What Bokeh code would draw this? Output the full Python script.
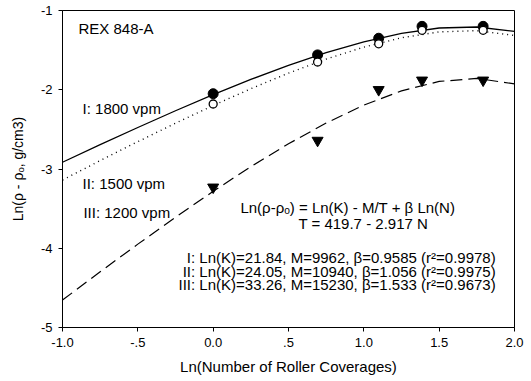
import numpy as np
from bokeh.plotting import figure
from bokeh.models import Label, FixedTicker, Range1d, CustomJSTickFormatter
from bokeh.embed import file_html
from bokeh.resources import INLINE

# ---- measured data ----
coverages = [1, 2, 3, 4, 6]
ln_cov = [float(v) for v in np.log(coverages)]
rho_I = [-2.05, -1.56, -1.35, -1.20, -1.20]     # 1800 vpm, filled circles
rho_II = [-2.18, -1.65, -1.42, -1.25, -1.25]    # 1500 vpm, open circles
rho_III = [-3.23, -2.64, -2.00, -1.88, -1.88]   # 1200 vpm, triangles

# fitted curves
curve_x = [-1.0, -0.75, -0.5, -0.25, 0.0, 0.25, 0.5, 0.75, 1.0, 1.25, 1.5, 1.75, 2.0]
curve_I = [-2.915, -2.693, -2.476, -2.265, -2.062, -1.870, -1.692, -1.532, -1.395, -1.288, -1.221, -1.208, -1.264]
curve_II = [-3.139, -2.894, -2.655, -2.422, -2.199, -1.987, -1.790, -1.613, -1.462, -1.344, -1.270, -1.254, -1.315]
curve_III = [-4.654, -4.297, -3.948, -3.609, -3.282, -2.971, -2.682, -2.420, -2.194, -2.014, -1.895, -1.857, -1.926]

x_ticks = [-1.0, -0.5, 0.0, 0.5, 1.0, 1.5, 2.0]
x_tick_labels = ["-1.0", "-.5", "0.0", ".5", "1.0", "1.5", "2.0"]
y_ticks = [-5, -4, -3, -2, -1]
y_tick_labels = ["-5", "-4", "-3", "-2", "-1"]

FONT = "Liberation Sans"

p = figure(width=531, height=381, output_backend="svg", toolbar_location=None,
           x_range=Range1d(-1.0, 2.0), y_range=Range1d(-5.0, -1.0),
           min_border_left=62, min_border_right=17, min_border_top=10, min_border_bottom=54)
p.background_fill_color = "white"
p.border_fill_color = "white"
p.outline_line_color = "black"
p.outline_line_width = 1
p.xgrid.grid_line_color = None
p.ygrid.grid_line_color = None

# curves
p.line(curve_x, curve_I, line_color="black", line_width=1.3)
p.line(curve_x, curve_II, line_color="black", line_width=1.4, line_dash="1 4")
p.line(curve_x, curve_III, line_color="black", line_width=1.2, line_dash="12 6")

# points
p.scatter(ln_cov, rho_I, marker="circle", size=10, fill_color="black", line_color="black")
p.scatter(ln_cov, rho_II, marker="circle", size=8, fill_color="white", line_color="black", line_width=1.3)
p.scatter(ln_cov, rho_III, marker="inverted_triangle", size=11, fill_color="black", line_color="black")

# axes
for ax in (p.xaxis[0], p.yaxis[0]):
    ax.axis_line_color = "black"
    ax.major_tick_line_color = "black"
    ax.major_tick_in = 0
    ax.major_tick_out = 4
    ax.minor_tick_line_color = None
    ax.major_label_text_font = FONT
    ax.major_label_text_font_size = "13px"
    ax.major_label_text_color = "black"
    ax.axis_label_text_font = FONT
    ax.axis_label_text_font_size = "15px"
    ax.axis_label_text_font_style = "normal"
    ax.axis_label_text_color = "black"
p.yaxis.axis_label_text_font_size = "14px"

fmt_code = """
const i = tick_vals.findIndex(t => Math.abs(t - tick) < 1e-9);
return i >= 0 ? tick_text[i] : '';
"""
p.xaxis.ticker = FixedTicker(ticks=x_ticks)
p.xaxis.formatter = CustomJSTickFormatter(args=dict(tick_vals=x_ticks, tick_text=x_tick_labels), code=fmt_code)
p.yaxis.ticker = FixedTicker(ticks=y_ticks)
p.yaxis.formatter = CustomJSTickFormatter(args=dict(tick_vals=y_ticks, tick_text=y_tick_labels), code=fmt_code)
p.xaxis.axis_label = "Ln(Number of Roller Coverages)"
p.yaxis.axis_label = "Ln(\u03c1 - \u03c1\u2092, g/cm3)"
p.xaxis.major_label_standoff = 6
p.xaxis.axis_label_standoff = 8
p.yaxis.major_label_standoff = 6
p.yaxis.axis_label_standoff = 12

# annotations
def add_label(x, y, text, align="left", size="15px"):
    p.add_layout(Label(x=x, y=y, text=text, text_font=FONT, text_font_size=size,
                       text_align=align, text_baseline="middle", text_color="black"))

add_label(-0.894, -1.227, "REX 848-A")
add_label(-0.867, -2.237, "I: 1800 vpm")
add_label(-0.867, -3.183, "II: 1500 vpm")
add_label(-0.861, -3.549, "III: 1200 vpm")
add_label(0.181, -3.486, "Ln(\u03c1-\u03c1\u2092) = Ln(K) - M/T + \u03b2 Ln(N)")
add_label(0.566, -3.688, "T = 419.7 - 2.917 N")
add_label(1.875, -4.117, "I: Ln(K)=21.84, M=9962, \u03b2=0.9585 (r\u00b2=0.9978)", align="right")
add_label(1.875, -4.293, "II: Ln(K)=24.05, M=10940, \u03b2=1.056 (r\u00b2=0.9975)", align="right")
add_label(1.875, -4.457, "III: Ln(K)=33.26, M=15230, \u03b2=1.533 (r\u00b2=0.9673)", align="right")

open("out.html", "w").write(file_html(p, INLINE))
